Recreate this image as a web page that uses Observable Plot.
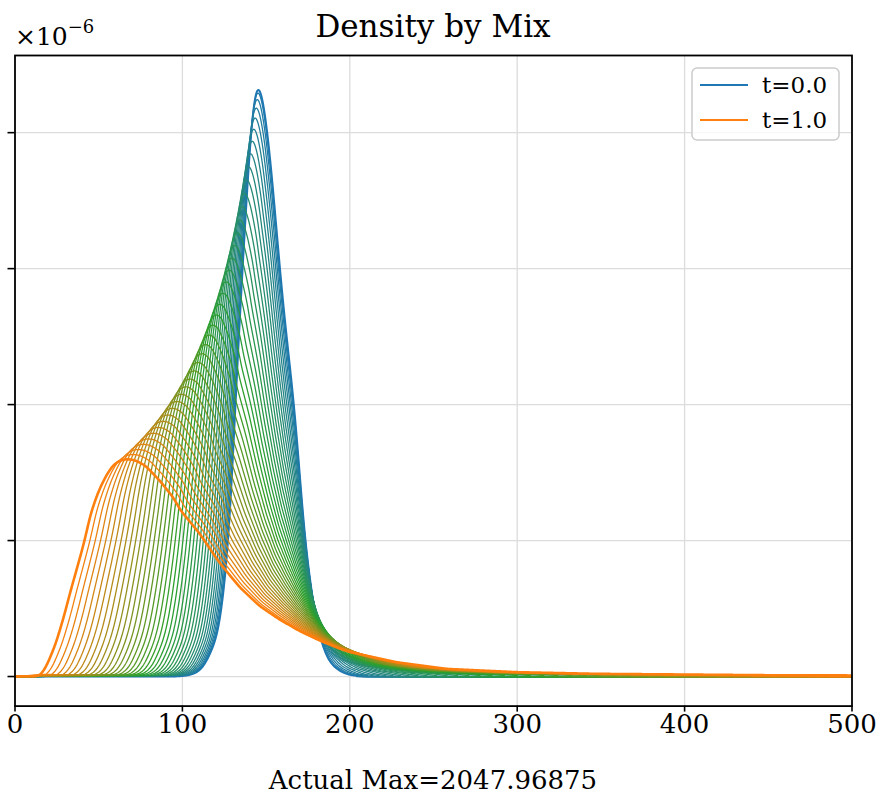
<!DOCTYPE html>
<html><head><meta charset="utf-8">
<script src="https://cdn.jsdelivr.net/npm/d3@7"></script>
<script src="https://cdn.jsdelivr.net/npm/@observablehq/plot@0.6"></script>
<style>body{margin:0;background:#fff} svg{display:block}</style>
</head><body><div id="chart"></div>
<script>
// ---- text ----
const titleText = "Density by Mix";
const xLabelText = "Actual Max=2047.96875";
const offsetBase = "\u00d710";
const offsetExp = "\u22126";
const legendLabels = ["t=0.0", "t=1.0"];
// ---- ticks ----
const xTicks = [0, 100, 200, 300, 400, 500];
const yTicks = [0, 1, 2, 3, 4];
// ---- colours (curve index 0, middle, last) ----
const seriesColors = ["#1f77b4", "#2ca02c", "#ff7f0e"];
// ---- mix values t of the drawn curves (denser near t = 0, as seen) ----
const mixValues = [0, 0.0027, 0.0083, 0.0159, 0.0251, 0.0359, 0.0481, 0.0615, 0.0762, 0.0919,
  0.1088, 0.1267, 0.1457, 0.1656, 0.1864, 0.2082, 0.2308, 0.2543, 0.2787, 0.3039,
  0.3299, 0.3567, 0.3842, 0.4126, 0.4416, 0.4714, 0.5019, 0.5332, 0.5652, 0.5978,
  0.6311, 0.6651, 0.6998, 0.7351, 0.7711, 0.8076, 0.8449, 0.8827, 0.9212, 0.9603, 1];
// ---- t = 0.0 density (units of 1e-6) ----
const blueX = [0, 95, 102, 107, 111, 114, 117, 121, 124, 126, 128, 130, 132, 135, 138, 141, 143.8, 147, 150.5, 154.5, 158, 161, 164, 167, 170, 173, 178, 182, 186, 189, 194, 200, 210, 500];
const blueY = [0, 0, 0.005, 0.02, 0.05, 0.1, 0.18, 0.3, 0.54, 0.78, 1.05, 1.55, 2.1, 2.8, 3.45, 4.05, 4.38, 4.33, 4.05, 3.55, 3.02, 2.64, 2.3, 1.98, 1.5, 1.02, 0.54, 0.29, 0.15, 0.09, 0.04, 0.01, 0, 0];
// ---- t = 1.0 density (units of 1e-6) ----
const orangeX = [0, 12, 15, 17, 19.3, 24.3, 29.2, 33.2, 37.8, 41.6, 45.2, 50.1, 55, 59, 63, 67, 72, 78, 86.5, 95, 98.4, 110.4, 122, 134, 146, 158, 170, 182, 194, 200, 228, 258, 300, 347, 398, 446, 500];
const orangeY = [0, 0, 0.01, 0.04, 0.09, 0.24, 0.44, 0.63, 0.83, 1.0, 1.2, 1.37, 1.49, 1.56, 1.59, 1.6, 1.59, 1.55, 1.44, 1.31, 1.23, 1.05, 0.84, 0.66, 0.52, 0.42, 0.335, 0.265, 0.205, 0.18, 0.105, 0.056, 0.032, 0.02, 0.015, 0.01, 0.008];

// ---- build curves (displacement mix between the two read densities) ----
const dx = 0.25, N = Math.round(500 / dx) + 1;
const grid = d3.range(N).map(i => i * dx);
function resample(xs, ys) {
  return grid.map(x => {
    if (x <= xs[0]) return ys[0];
    if (x >= xs[xs.length - 1]) return ys[ys.length - 1];
    const i = d3.bisectRight(xs, x);
    const x0 = xs[i - 1], x1 = xs[i];
    return ys[i - 1] + (ys[i] - ys[i - 1]) * (x - x0) / (x1 - x0);
  });
}
function blur(a, r, passes) {
  let cur = a.slice();
  for (let p = 0; p < passes; p++) {
    const out = new Array(cur.length);
    for (let i = 0; i < cur.length; i++) {
      let s = 0, c = 0;
      for (let j = i - r; j <= i + r; j++) if (j >= 0 && j < cur.length) { s += cur[j]; c++; }
      out[i] = s / c;
    }
    cur = out;
  }
  return cur;
}
const f0 = blur(resample(blueX, blueY), 7, 3);
const f1 = blur(resample(orangeX, orangeY), 5, 3);
function cdf(f) { const c = [0]; for (let i = 1; i < f.length; i++) c.push(c[i - 1] + (f[i] + f[i - 1]) / 2 * dx); return c; }
const C0 = cdf(f0), C1 = cdf(f1);
const M0 = C0[N - 1], M1 = C1[N - 1];
const U = 3000;
function quant(C, f, M) {
  const qs = [], gs = [];
  let j = 1;
  for (let k = 0; k < U; k++) {
    const u = (k + 0.5) / U * M;
    while (j < N - 1 && C[j] < u) j++;
    const c0 = C[j - 1], c1 = C[j];
    const fr = c1 > c0 ? (u - c0) / (c1 - c0) : 0;
    qs.push(grid[j - 1] + fr * dx);
    gs.push((f[j - 1] + fr * (f[j] - f[j - 1])) / M);
  }
  return [qs, gs];
}
const [Q0, G0] = quant(C0, f0, M0);
const [Q1, G1] = quant(C1, f1, M1);

const last = mixValues.length - 1;
const mid = [];
mixValues.forEach((t, idx) => {
  if (idx === 0 || idx === last) return;
  const s = idx / last;
  const M = (1 - t) * M0 + t * M1;
  mid.push({s, x: 0, y: 0});
  let lastX = 0;
  for (let k = 0; k < U; k++) {
    const x = (1 - t) * Q0[k] + t * Q1[k];
    const g0 = Math.max(G0[k], 1e-9), g1 = Math.max(G1[k], 1e-9);
    const y = M / ((1 - t) / g0 + t / g1);
    mid.push({s, x, y});
    lastX = x;
  }
  mid.push({s, x: lastX + 0.01, y: 0});
  mid.push({s, x: 500, y: 0});
});
const blueLine = grid.map((x, i) => ({x, y: f0[i]}));
const orangeLine = grid.map((x, i) => ({x, y: f1[i]}));

const gridStyle = {stroke: "#dcdcdc", strokeWidth: 1.3, strokeOpacity: 1};
const plot = Plot.plot({
  width: 880, height: 795,
  marginTop: 55, marginBottom: 89.4, marginLeft: 14.5, marginRight: 28.5,
  style: {fontFamily: "DejaVu Serif", fontSize: "26px", background: "white", color: "black"},
  x: {domain: [0, 500]},
  y: {domain: [-0.2175, 4.5675]},
  color: {type: "linear", domain: [0, 0.5, 1], range: seriesColors, interpolate: "rgb"},
  marks: [
    Plot.gridX(xTicks.slice(1, -1), gridStyle),
    Plot.gridY(yTicks, gridStyle),
    Plot.line(blueLine, {x: "x", y: "y", stroke: seriesColors[0], strokeWidth: 2, clip: true}),
    Plot.line(mid, {x: "x", y: "y", z: "s", stroke: d => d.s, strokeWidth: 1.3, clip: true}),
    Plot.line(orangeLine, {x: "x", y: "y", stroke: seriesColors[2], strokeWidth: 2.6, clip: true}),
    Plot.frame({stroke: "black", strokeWidth: 1.8}),
    Plot.axisX(xTicks, {tickSize: 6, tickPadding: 2, label: null, fontSize: 26, strokeWidth: 1.6}),
    Plot.axisY(yTicks, {tickSize: 7, tickFormat: () => "", label: null, strokeWidth: 1.6})
  ]
});
document.getElementById("chart").appendChild(plot);

const svg = d3.select(plot);
const font = "DejaVu Serif";
svg.append("text").attr("x", 433).attr("y", 37).attr("text-anchor", "middle")
  .attr("font-family", font).attr("font-size", 31).attr("fill", "black").text(titleText);
const off = svg.append("text").attr("x", 15).attr("y", 45).attr("text-anchor", "start")
  .attr("font-family", font).attr("font-size", 25).attr("fill", "black");
off.append("tspan").text(offsetBase);
off.append("tspan").attr("dy", -12).attr("font-size", 18).text(offsetExp);
svg.append("text").attr("x", 433).attr("y", 789).attr("text-anchor", "middle")
  .attr("font-family", font).attr("font-size", 26).attr("fill", "black").text(xLabelText);
const lg = svg.append("g");
lg.append("rect").attr("x", 692).attr("y", 68).attr("width", 147).attr("height", 72).attr("rx", 5)
  .attr("fill", "white").attr("fill-opacity", 0.8).attr("stroke", "#cccccc").attr("stroke-width", 1.5);
[[seriesColors[0], 85], [seriesColors[2], 120]].forEach(([c, y], i) => {
  lg.append("line").attr("x1", 700).attr("x2", 748).attr("y1", y).attr("y2", y).attr("stroke", c).attr("stroke-width", 2);
  lg.append("text").attr("x", 762).attr("y", y + 8).attr("text-anchor", "start")
    .attr("font-family", font).attr("font-size", 23).attr("fill", "black").text(legendLabels[i]);
});
</script>
</body></html>
